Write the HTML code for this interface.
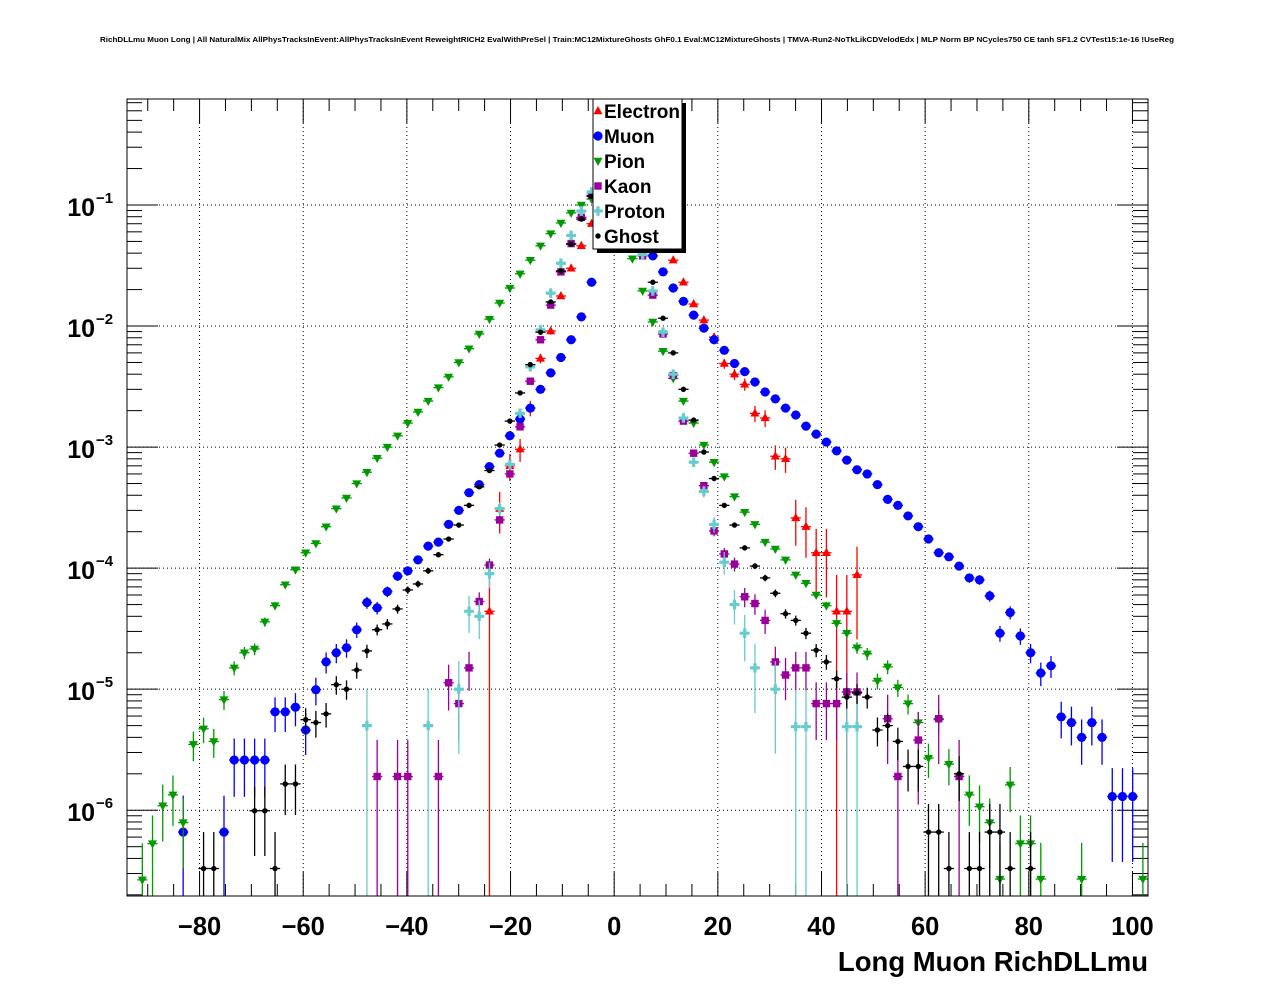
<!DOCTYPE html>
<html><head><meta charset="utf-8"><style>
html,body{margin:0;padding:0;background:#fff;}
svg{display:block;font-family:"Liberation Sans",Arial,sans-serif;}
</style></head><body>
<svg id="chart" width="1276" height="996" viewBox="0 0 1276 996" xmlns="http://www.w3.org/2000/svg">
<rect x="0" y="0" width="1276" height="996" fill="#fff"/>
<text x="100" y="42" font-size="7.5" font-weight="bold" textLength="1074" lengthAdjust="spacingAndGlyphs">RichDLLmu Muon Long | All NaturalMix AllPhysTracksInEvent:AllPhysTracksInEvent ReweightRICH2 EvalWithPreSel | Train:MC12MixtureGhosts GhF0.1 Eval:MC12MixtureGhosts | TMVA-Run2-NoTkLikCDVelodEdx | MLP Norm BP NCycles750 CE tanh SF1.2 CVTest15:1e-16 !UseReg</text>
<g id="grid"></g>
<g id="axes"></g>
<g id="series"></g>
<rect x="127" y="99" width="1021" height="797" fill="none" stroke="#000" stroke-width="1"/>
<text x="1148" y="971" font-size="27.5" font-weight="bold" text-anchor="end">Long Muon RichDLLmu</text>
<g id="legend"></g>
</svg>
<script>
// ---- data (bin centers in RichDLLmu, normalized entries) ----
const binLow = -94, binHigh = 103, nBins = 100;
const electronBins = [35,36,37,38,39,40,41,42,43,44,45,46,47,48,49,50,51,52,53,54,55,56,57,58,59,60,61,62,63,64,65,66,67,68,69,70,71];
const electronValues = [4.4e-5,3.1e-4,7.0e-4,9.6e-4,2.1e-3,5.4e-3,9.1e-3,1.77e-2,3.0e-2,4.6e-2,7.0e-2,0.09,0.1,0.1,0.09,0.07,0.055,0.045,3.5e-2,2.3e-2,1.52e-2,1.12e-2,8.1e-3,4.9e-3,4.0e-3,3.3e-3,1.9e-3,1.74e-3,8.4e-4,8.0e-4,2.6e-4,2.2e-4,1.34e-4,1.34e-4,4.4e-5,4.4e-5,8.8e-5];
const muonBins = [5,9,10,11,12,13,14,15,16,17,18,19,20,21,22,23,24,25,26,27,28,29,30,31,32,33,34,35,36,37,38,39,40,41,42,43,44,45,46,47,48,49,50,51,52,53,54,55,56,57,58,59,60,61,62,63,64,65,66,67,68,69,70,71,72,73,74,75,76,77,78,79,80,81,82,83,84,85,86,87,88,89,90,91,92,93,94,95,96,97,98];
const muonValues = [6.6e-7,6.6e-7,2.6e-6,2.6e-6,2.6e-6,2.6e-6,6.5e-6,6.5e-6,7.1e-6,4.6e-6,9.9e-6,1.68e-5,2.0e-5,2.2e-5,3.1e-5,5.2e-5,4.7e-5,6.4e-5,8.6e-5,9.5e-5,1.17e-4,1.52e-4,1.64e-4,2.3e-4,3.0e-4,4.2e-4,4.9e-4,6.9e-4,8.9e-4,1.24e-3,1.7e-3,2.1e-3,3.0e-3,4.1e-3,5.5e-3,7.7e-3,1.19e-2,2.3e-2,0.05,0.09,0.1,0.08,0.055,3.8e-2,2.8e-2,2.06e-2,1.6e-2,1.23e-2,9.6e-3,7.7e-3,6.3e-3,4.9e-3,4.2e-3,3.45e-3,2.85e-3,2.5e-3,2.1e-3,1.84e-3,1.49e-3,1.28e-3,1.1e-3,9.3e-4,7.8e-4,6.5e-4,6.0e-4,4.9e-4,3.7e-4,3.3e-4,2.7e-4,2.2e-4,1.74e-4,1.34e-4,1.24e-4,1.04e-4,8.3e-5,8.0e-5,5.9e-5,2.9e-5,4.3e-5,2.75e-5,2.0e-5,1.36e-5,1.56e-5,5.9e-6,5.3e-6,4.0e-6,5.3e-6,4.0e-6,1.3e-6,1.3e-6,1.3e-6];
const pionBins = [1,2,3,4,5,6,7,8,9,10,11,12,13,14,15,16,17,18,19,20,21,22,23,24,25,26,27,28,29,30,31,32,33,34,35,36,37,38,39,40,41,42,43,44,45,46,47,48,49,50,51,52,53,54,55,56,57,58,59,60,61,62,63,64,65,66,67,68,69,70,71,72,73,74,75,76,77,78,79,80,81,82,83,84,85,86,87,88,89,93,99];
const pionValues = [2.66e-7,5.3e-7,1.09e-6,1.34e-6,7.9e-7,3.5e-6,4.7e-6,3.7e-6,8.2e-6,1.5e-5,2.0e-5,2.15e-5,3.6e-5,4.9e-5,7.3e-5,9.7e-5,1.34e-4,1.6e-4,2.2e-4,3.1e-4,3.8e-4,5.0e-4,6.2e-4,8.1e-4,1.0e-3,1.24e-3,1.58e-3,1.95e-3,2.4e-3,3.1e-3,3.8e-3,5.0e-3,6.5e-3,8.6e-3,1.14e-2,1.55e-2,2.06e-2,2.7e-2,3.5e-2,4.6e-2,5.8e-2,7.1e-2,8.6e-2,0.1,0.112,0.12,0.12,0.08,3.6e-2,1.95e-2,1.08e-2,6.2e-3,3.7e-3,2.4e-3,1.58e-3,1.04e-3,7.5e-4,5.7e-4,3.9e-4,2.9e-4,2.3e-4,1.64e-4,1.44e-4,1.17e-4,8.8e-5,7.5e-5,6.0e-5,4.9e-5,3.5e-5,2.9e-5,2.2e-5,1.96e-5,1.17e-5,1.53e-5,1.03e-5,7.6e-6,5.3e-6,2.7e-6,5.6e-6,2.4e-6,1.9e-6,1.34e-6,1.07e-6,7.9e-7,2.7e-7,1.62e-6,5.3e-7,5.3e-7,2.7e-7,2.7e-7,2.7e-7];
const kaonBins = [24,26,27,30,31,32,33,34,35,36,37,38,39,40,41,42,43,44,45,46,47,48,49,50,51,52,53,54,55,56,57,58,59,60,61,62,63,64,65,66,67,68,69,70,71,74,75,77,79,81];
const kaonValues = [1.9e-6,1.9e-6,1.9e-6,1.9e-6,1.13e-5,7.6e-6,1.5e-5,5.3e-5,1.06e-4,2.5e-4,6.0e-4,1.47e-3,3.5e-3,7.7e-3,1.49e-2,2.8e-2,4.8e-2,7.9e-2,0.12,0.16,0.2,0.16,0.07,3.8e-2,1.8e-2,8.6e-3,3.9e-3,1.64e-3,8.9e-4,4.8e-4,2.03e-4,1.31e-4,1.08e-4,5.8e-5,5.1e-5,3.7e-5,1.68e-5,1.31e-5,1.5e-5,1.5e-5,7.6e-6,7.6e-6,7.6e-6,9.5e-6,9.5e-6,5.7e-6,1.9e-6,3.8e-6,5.7e-6,1.9e-6];
const protonBins = [23,29,32,33,34,35,36,37,38,39,40,41,42,43,44,45,46,47,48,49,50,51,52,53,54,55,56,57,58,59,60,61,63,65,66,70,71];
const protonValues = [5.0e-6,5.0e-6,1.0e-5,4.4e-5,4.0e-5,9.0e-5,3.1e-4,7.2e-4,1.9e-3,4.6e-3,9.3e-3,1.87e-2,3.3e-2,5.6e-2,8.9e-2,0.128,0.17,0.2,0.16,0.07,3.9e-2,1.95e-2,8.9e-3,4.0e-3,1.74e-3,7.5e-4,4.3e-4,2.3e-4,1.12e-4,5.0e-5,2.9e-5,1.5e-5,1.0e-5,4.9e-6,4.9e-6,4.9e-6,4.9e-6];
const ghostBins = [7,8,12,13,14,15,16,17,18,19,20,21,22,23,24,25,26,27,28,29,30,31,32,33,34,35,36,37,38,39,40,41,42,43,44,45,46,47,48,49,50,51,52,53,54,55,56,57,58,59,60,61,62,63,64,65,66,67,68,69,70,71,72,73,74,75,76,77,78,79,80,81,82,83,84,85,86,88];
const ghostValues = [3.3e-7,3.3e-7,9.9e-7,9.9e-7,3.3e-7,1.65e-6,1.65e-6,5.6e-6,5.3e-6,6.25e-6,1.09e-5,1.0e-5,1.44e-5,2.07e-5,3.1e-5,3.46e-5,4.6e-5,6.6e-5,7.4e-5,9.5e-5,1.29e-4,1.74e-4,2.27e-4,3.3e-4,4.7e-4,6.4e-4,1.04e-3,1.64e-3,2.8e-3,4.8e-3,8.9e-3,1.58e-2,2.85e-2,4.75e-2,7.65e-2,0.118,0.15,0.17,0.15,0.08,0.045,2.3e-2,1.16e-2,6.0e-3,3.0e-3,1.67e-3,9.1e-4,5.5e-4,3.3e-4,2.27e-4,1.47e-4,1.04e-4,8.3e-5,6.2e-5,4.2e-5,3.7e-5,2.9e-5,2.1e-5,1.68e-5,1.22e-5,8.6e-6,9.3e-6,8.6e-6,4.6e-6,5.0e-6,3.7e-6,2.3e-6,2.3e-6,6.6e-7,6.6e-7,3.3e-7,2.0e-6,3.3e-7,3.3e-7,6.6e-7,6.6e-7,3.3e-7,3.3e-7];
const xTickLabels = ["\u221280","\u221260","\u221240","\u221220","0","20","40","60","80","100"];
const xTickValues = [-80,-60,-40,-20,0,20,40,60,80,100];
const yTickExps = [-6,-5,-4,-3,-2,-1];
const legendLabels = ["Electron","Muon","Pion","Kaon","Proton","Ghost"];

// ---- axes ----
const X0=127, X1=1148, Y0=99, Y1=896;
const xMin=-94, xMax=103;
const logMin=-6.7085, logMax=-0.1245;
function xs(v){return X0+(v-xMin)/(xMax-xMin)*(X1-X0);}
function ys(v){return Y1-(Math.log10(v)-logMin)/(logMax-logMin)*(Y1-Y0);}
function binCenter(k){const w=(binHigh-binLow)/nBins;return binLow+w*(k+0.5);}
const NS="http://www.w3.org/2000/svg";
function mk(tag,attrs,parent){const e=document.createElementNS(NS,tag);for(const k in attrs)e.setAttribute(k,attrs[k]);parent.appendChild(e);return e;}
const grid=document.getElementById('grid'), axes=document.getElementById('axes');

xTickValues.forEach((v,i)=>{
  const x=xs(v);
  const g=mk('line',{x1:x,x2:x,y1:Y0,y2:Y1,stroke:'#000','stroke-width':1,'stroke-dasharray':'1,3'},grid);
  
  
  const t=mk('text',{x:x,y:935,'font-size':25.5,'font-weight':'bold','text-anchor':'middle'},axes);
  t.textContent=xTickLabels[i];
  
  
});
for(let v=-90; v<=103; v+=5){
  const x=xs(v); const major=(v%20===0);
  const L=major?24:12;
  const a=mk('line',{x1:x,x2:x,y1:Y1,y2:Y1-L,stroke:'#000','stroke-width':1},axes);
  
  
  const b=mk('line',{x1:x,x2:x,y1:Y0,y2:Y0+L,stroke:'#000','stroke-width':1},axes);
  
  
}
for(let e=-7; e<=0; e++){
  for(let m=1;m<10;m++){
    const v=m*Math.pow(10,e); const y=ys(v);
    if(y<Y0-0.5||y>Y1+0.5) continue;
    const L=(m===1)?31:15;
    const a=mk('line',{x1:X0,x2:X0+L,y1:y,y2:y,stroke:'#000','stroke-width':1},axes);
    
    
    const b=mk('line',{x1:X1,x2:X1-L,y1:y,y2:y,stroke:'#000','stroke-width':1},axes);
    
    
  }
}
yTickExps.forEach(e=>{
  const y=ys(Math.pow(10,e));
  const g=mk('line',{x1:X0,x2:X1,y1:y,y2:y,stroke:'#000','stroke-width':1,'stroke-dasharray':'1,3'},grid);
  
  
  const t=mk('text',{x:95,y:y+11,'font-size':25,'font-weight':'bold','text-anchor':'end'},axes);
  t.textContent='10';
  
  
  const s=mk('text',{x:96,y:y-2,'font-size':15,'font-weight':'bold'},axes);
  s.textContent='\u2212'+(-e);
  
  
});

function marker(kind,x,y,color,parent){
  let e;
  if(kind==='tri-up') e=mk('polygon',{points:`${x},${y-5} ${x-4.5},${y+3.2} ${x+4.5},${y+3.2}`,fill:color},parent);
  else if(kind==='circle') e=mk('circle',{cx:x,cy:y,r:4.6},parent);
  else if(kind==='tri-down') e=mk('polygon',{points:`${x},${y+5} ${x-4.5},${y-3.2} ${x+4.5},${y-3.2}`,fill:color},parent);
  else if(kind==='square') e=mk('rect',{x:x-3.7,y:y-3.7,width:7.4,height:7.4,fill:color},parent);
  else if(kind==='cross') e=mk('path',{d:`M${x-4.8},${y-1.6}h3.2v-3.2h3.2v3.2h3.2v3.2h-3.2v3.2h-3.2v-3.2h-3.2z`,fill:color},parent);
  else e=mk('circle',{cx:x,cy:y,r:2.7},parent);
  e.setAttribute('fill',color);
  return e;
}
const seriesDefs=[
  {name:'electron',bins:electronBins,vals:electronValues,color:'#ff0000',kind:'tri-up',unit:4.4e-5},
  {name:'muon',bins:muonBins,vals:muonValues,color:'#0000ff',kind:'circle',unit:6.6e-7},
  {name:'pion',bins:pionBins,vals:pionValues,color:'#009900',kind:'tri-down',unit:2.66e-7},
  {name:'kaon',bins:kaonBins,vals:kaonValues,color:'#990099',kind:'square',unit:1.9e-6},
  {name:'proton',bins:protonBins,vals:protonValues,color:'#66cccc',kind:'cross',unit:5.0e-6},
  {name:'ghost',bins:ghostBins,vals:ghostValues,color:'#000000',kind:'dot',unit:3.3e-7}
];
const sg=document.getElementById('series');
const halfW=(binHigh-binLow)/nBins/2;
seriesDefs.forEach(s=>{
  const g=mk('g',{},sg);
  
  
  s.bins.forEach((k,i)=>{
    const v=s.vals[i]; const cx=binCenter(k);
    const x=xs(cx), y=ys(v);
    const err=Math.sqrt(v*s.unit);
    const lo=v-err>0?Math.min(ys(v-err),Y1):Y1;
    const hi=Math.max(ys(v+err),Y0);
    const eb=mk('line',{x1:x,x2:x,y1:Math.max(hi,Y0),y2:Math.min(lo,Y1),stroke:s.color,'stroke-width':1.3},g);
    
    
    if(y<Y0||y>Y1) return;
    const hb=mk('line',{x1:xs(cx-halfW),x2:xs(cx+halfW),y1:y,y2:y,stroke:s.color,'stroke-width':1.3},g);
    
    
    const m=marker(s.kind,x,y,s.color,g);
    
    
  });
});

const lg=document.getElementById('legend');
const sh=mk('rect',{x:597,y:103,width:89,height:150,fill:'#000'},lg);


const bx=mk('rect',{x:593,y:99,width:89,height:150,fill:'#fff',stroke:'#000','stroke-width':1},lg);


legendLabels.forEach((lab,i)=>{
  const y=111+i*25;
  const s=seriesDefs[i];
  const m=marker(s.kind,598,y,s.color,lg);
  
  
  const t=mk('text',{x:604,y:y+7,'font-size':19,'font-weight':'bold'},lg);
  t.textContent=lab;
  
  
});
</script>
</body></html>
